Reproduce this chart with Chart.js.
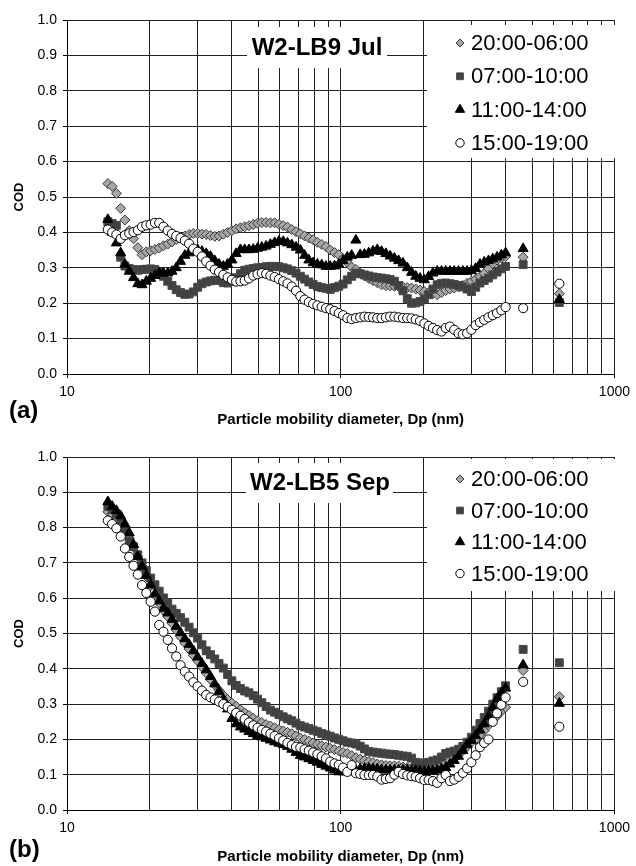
<!DOCTYPE html>
<html><head><meta charset="utf-8">
<script src="https://cdn.jsdelivr.net/npm/chart.js@4/dist/chart.umd.min.js"></script>
<style>
html,body{margin:0;padding:0;background:#fff;}
#wrap{position:relative;width:636px;height:866px;overflow:hidden;}
canvas{position:absolute;left:0;}
</style></head><body>
<div id="wrap">
<canvas id="cA" width="636" height="433" style="top:0;width:636px;height:433px"></canvas>
<canvas id="cB" width="636" height="433" style="top:433px;width:636px;height:433px"></canvas>
</div>
<script>
// ---------- data ----------
const seriesNames = ['20:00-06:00', '07:00-10:00', '11:00-14:00', '15:00-19:00'];

// particle mobility diameter channels (nm)
const diameters = [14.10,14.62,15.15,15.71,16.28,16.88,17.50,18.14,18.80,19.49,
  20.21,20.95,21.72,22.51,23.34,24.19,25.07,25.99,26.95,27.93,
  28.96,30.02,31.12,32.26,33.44,34.66,35.93,37.25,38.62,40.03,
  41.50,43.02,44.59,46.22,47.92,49.67,51.49,53.38,55.34,57.36,
  59.47,61.64,63.90,66.24,68.67,71.18,73.79,76.49,79.30,82.20,
  85.21,88.33,91.57,94.92,98.40,102.0,105.7,109.6,113.6,117.8,
  122.1,126.6,131.2,136.0,141.0,146.2,151.5,157.1,162.8,168.8,
  175.0,181.4,188.0,194.9,202.1,209.5,217.2,225.1,233.4,241.9,
  250.7,259.9,269.5,279.3,289.6,300.2,311.2,322.6,334.4,346.6,
  359.3,372.5,386.2,400.3,
  464,629];

const xGridValues = [10,20,30,40,50,60,70,80,90,100,200,300,400,500,600,700,800,900,1000];
const xTickLabels = [10,100,1000];
const yTickValues = [0,0.1,0.2,0.3,0.4,0.5,0.6,0.7,0.8,0.9,1.0];

// (a) W2-LB9 Jul
const julNight = [0.538,0.53,0.51,0.468,0.435,0.405,0.382,0.357,0.337,0.345,
  0.348,0.352,0.356,0.362,0.367,0.373,0.38,0.386,0.39,0.394,
  0.397,0.397,0.395,0.394,0.391,0.389,0.39,0.395,0.4,0.405,
  0.41,0.413,0.416,0.419,0.422,0.426,0.428,0.428,0.427,0.427,
  0.423,0.419,0.415,0.408,0.402,0.396,0.39,0.384,0.379,0.372,
  0.366,0.36,0.35,0.343,0.337,0.326,0.315,0.302,0.295,0.285,
  0.277,0.27,0.264,0.258,0.252,0.25,0.249,0.248,0.247,0.246,
  0.244,0.243,0.24,0.237,0.233,0.23,0.227,0.224,0.23,0.236,
  0.24,0.243,0.246,0.25,0.256,0.262,0.268,0.275,0.284,0.298,
  0.312,0.322,0.328,0.332,
  0.33,0.227];
const julMorning = [0.43,0.425,0.42,0.33,0.305,0.298,0.295,0.293,0.295,0.296,
  0.297,0.295,0.287,0.276,0.262,0.25,0.238,0.23,0.225,0.226,
  0.232,0.245,0.255,0.26,0.263,0.265,0.264,0.258,0.257,0.262,
  0.272,0.283,0.293,0.296,0.298,0.3,0.301,0.303,0.304,0.304,
  0.303,0.3,0.297,0.292,0.285,0.276,0.268,0.26,0.253,0.247,
  0.244,0.242,0.239,0.244,0.248,0.254,0.266,0.276,0.285,0.283,
  0.28,0.277,0.274,0.272,0.271,0.269,0.267,0.262,0.25,0.235,
  0.213,0.2,0.201,0.205,0.212,0.224,0.24,0.252,0.256,0.257,
  0.255,0.253,0.25,0.246,0.24,0.233,0.245,0.257,0.264,0.271,
  0.28,0.288,0.297,0.304,
  0.309,0.202];
const julMidday = [0.436,0.4,0.37,0.342,0.31,0.29,0.272,0.255,0.252,0.262,
  0.27,0.278,0.285,0.285,0.285,0.29,0.3,0.318,0.335,0.342,
  0.348,0.351,0.346,0.34,0.332,0.32,0.31,0.304,0.31,0.322,
  0.34,0.351,0.351,0.351,0.352,0.355,0.358,0.361,0.366,0.371,
  0.375,0.374,0.37,0.365,0.358,0.35,0.335,0.322,0.314,0.31,
  0.308,0.304,0.304,0.305,0.31,0.32,0.33,0.335,0.378,0.337,
  0.338,0.342,0.347,0.351,0.346,0.34,0.333,0.327,0.32,0.313,
  0.3,0.287,0.276,0.27,0.266,0.275,0.285,0.29,0.29,0.29,
  0.29,0.29,0.29,0.29,0.29,0.292,0.298,0.31,0.316,0.32,
  0.325,0.33,0.336,0.342,
  0.354,0.21];
const julAfternoon = [0.408,0.4,0.394,0.382,0.392,0.397,0.401,0.406,0.416,0.42,
  0.422,0.427,0.427,0.416,0.405,0.396,0.39,0.384,0.377,0.368,
  0.354,0.345,0.332,0.318,0.306,0.295,0.288,0.28,0.273,0.266,
  0.261,0.262,0.264,0.27,0.278,0.282,0.285,0.283,0.278,0.274,
  0.268,0.262,0.256,0.247,0.235,0.22,0.21,0.203,0.198,0.194,
  0.19,0.186,0.183,0.178,0.172,0.166,0.158,0.155,0.158,0.16,
  0.162,0.161,0.16,0.158,0.158,0.16,0.162,0.162,0.16,0.158,
  0.158,0.157,0.154,0.15,0.143,0.136,0.13,0.124,0.12,0.13,
  0.134,0.125,0.115,0.112,0.115,0.125,0.138,0.146,0.153,0.16,
  0.166,0.172,0.18,0.189,
  0.186,0.255];

// (b) W2-LB5 Sep
const sepNight = [0.845,0.839,0.829,0.814,0.792,0.77,0.745,0.718,0.69,0.662,
  0.635,0.61,0.587,0.566,0.548,0.529,0.51,0.491,0.473,0.456,
  0.438,0.422,0.405,0.388,0.37,0.354,0.339,0.325,0.313,0.303,
  0.294,0.284,0.275,0.268,0.26,0.253,0.248,0.242,0.238,0.233,
  0.228,0.224,0.22,0.216,0.21,0.204,0.2,0.195,0.19,0.186,
  0.182,0.178,0.175,0.171,0.167,0.163,0.16,0.154,0.148,0.144,
  0.14,0.137,0.134,0.13,0.128,0.126,0.125,0.125,0.124,0.122,
  0.12,0.119,0.118,0.118,0.118,0.12,0.122,0.125,0.128,0.132,
  0.14,0.148,0.157,0.168,0.18,0.192,0.2,0.212,0.225,0.24,
  0.255,0.266,0.28,0.291,
  0.395,0.321];
const sepMorning = [0.86,0.851,0.838,0.82,0.79,0.762,0.746,0.723,0.7,0.678,
  0.657,0.638,0.62,0.601,0.585,0.569,0.557,0.545,0.532,0.518,
  0.502,0.487,0.468,0.451,0.44,0.428,0.415,0.402,0.384,0.366,
  0.353,0.344,0.337,0.332,0.324,0.314,0.304,0.293,0.283,0.277,
  0.27,0.264,0.258,0.253,0.246,0.239,0.235,0.231,0.226,0.222,
  0.217,0.213,0.209,0.204,0.2,0.196,0.192,0.19,0.187,0.181,
  0.173,0.166,0.164,0.162,0.161,0.159,0.158,0.157,0.155,0.153,
  0.152,0.147,0.135,0.133,0.133,0.135,0.139,0.142,0.15,0.16,
  0.164,0.167,0.172,0.18,0.192,0.206,0.226,0.245,0.262,0.28,
  0.3,0.318,0.335,0.352,
  0.455,0.417];
const sepMidday = [0.873,0.86,0.848,0.833,0.81,0.785,0.752,0.718,0.69,0.664,
  0.638,0.612,0.592,0.571,0.558,0.54,0.52,0.502,0.485,0.469,
  0.451,0.433,0.415,0.397,0.378,0.357,0.336,0.314,0.286,0.259,
  0.244,0.235,0.229,0.222,0.216,0.211,0.207,0.203,0.198,0.193,
  0.189,0.185,0.18,0.172,0.163,0.154,0.15,0.145,0.14,0.135,
  0.129,0.124,0.119,0.113,0.108,0.108,0.108,0.11,0.113,0.116,
  0.117,0.118,0.117,0.116,0.114,0.113,0.113,0.113,0.113,0.113,
  0.113,0.112,0.112,0.11,0.109,0.11,0.111,0.113,0.116,0.12,
  0.13,0.14,0.152,0.168,0.185,0.197,0.211,0.226,0.244,0.265,
  0.29,0.315,0.332,0.345,
  0.411,0.302];
const sepAfternoon = [0.82,0.81,0.798,0.775,0.741,0.717,0.692,0.667,0.637,0.615,
  0.59,0.562,0.524,0.505,0.482,0.458,0.435,0.41,0.392,0.378,
  0.362,0.35,0.338,0.326,0.319,0.313,0.307,0.3,0.292,0.284,
  0.275,0.267,0.258,0.248,0.24,0.233,0.227,0.222,0.216,0.21,
  0.203,0.197,0.19,0.184,0.179,0.177,0.172,0.168,0.163,0.158,
  0.152,0.146,0.137,0.132,0.128,0.12,0.108,0.127,0.104,0.102,
  0.099,0.099,0.099,0.095,0.086,0.088,0.09,0.1,0.108,0.102,
  0.098,0.096,0.094,0.09,0.085,0.085,0.082,0.077,0.09,0.099,
  0.082,0.086,0.094,0.105,0.118,0.135,0.155,0.178,0.19,0.2,
  0.25,0.274,0.298,0.319,
  0.363,0.236];

// ---------- styles ----------
const FONT = '"Liberation Sans", Arial, Helvetica, sans-serif';
const markerStyles = [
  {pointStyle: 'rectRot', radius: 5, bg: '#a6a6a6', border: '#3a3a3a', order: 3, legendR: 4},
  {pointStyle: 'rect', radius: 5.6, bg: '#404040', border: '#4a4a4a', order: 2, legendR: 4.8},
  {pointStyle: 'triangle', radius: 5.8, bg: '#000000', border: '#000000', order: 1, legendR: 5.4},
  {pointStyle: 'circle', radius: 4.6, bg: '#ffffff', border: '#000000', order: 0, legendR: 4.2}
];

const decorPlugin = {
  id: 'decor',
  beforeDatasetsDraw(chart, args, o) {
    const ctx = chart.ctx;
    ctx.save();
    ctx.fillStyle = '#ffffff';
    ctx.fillRect(o.titleBox[0], o.titleBox[1], o.titleBox[2], o.titleBox[3]);
    ctx.fillRect(o.legendBox[0], o.legendBox[1], o.legendBox[2], o.legendBox[3]);
    ctx.fillStyle = '#000';
    ctx.font = 'bold 24px ' + FONT;
    ctx.textAlign = 'center';
    ctx.textBaseline = 'middle';
    ctx.fillText(o.title, o.titleX, o.titleY);
    ctx.font = '22px ' + FONT;
    ctx.textAlign = 'left';
    seriesNames.forEach((name, i) => {
      const y = o.legendY0 + i * o.legendDy;
      const m = markerStyles[i];
      ctx.fillStyle = m.bg;
      ctx.strokeStyle = m.border;
      ctx.lineWidth = 1;
      Chart.helpers.drawPoint(ctx, {pointStyle: m.pointStyle, radius: m.legendR, rotation: 0, borderWidth: 1}, o.legendMarkerX, y);
      ctx.fillStyle = '#000';
      ctx.fillText(name, o.legendTextX, y + 1);
    });
    ctx.restore();
  },
  afterDraw(chart, args, o) {
    const ctx = chart.ctx;
    const a = chart.chartArea;
    ctx.save();
    ctx.fillStyle = '#000';
    ctx.textBaseline = 'middle';
    ctx.textAlign = 'center';
    ctx.font = 'bold 15px ' + FONT;
    ctx.fillText('Particle mobility diameter, Dp (nm)', (a.left + a.right) / 2, o.xTitleY);
    ctx.font = 'bold 24px ' + FONT;
    ctx.textAlign = 'left';
    ctx.fillText(o.panel, 9, o.panelY);
    ctx.translate(19, (a.top + a.bottom) / 2);
    ctx.rotate(-Math.PI / 2);
    ctx.textAlign = 'center';
    ctx.font = 'bold 13px ' + FONT;
    ctx.fillText('COD', 0, 0);
    ctx.restore();
  }
};

function makeChart(canvasId, seriesList, cfg) {
  const datasets = seriesList.map((vals, i) => {
    const m = markerStyles[i];
    return {
      label: seriesNames[i],
      data: diameters.map((d, k) => ({x: d, y: vals[k]})),
      showLine: false,
      pointStyle: m.pointStyle,
      pointRadius: m.radius,
      pointHoverRadius: m.radius,
      pointBackgroundColor: m.bg,
      pointBorderColor: m.border,
      pointBorderWidth: 1,
      order: m.order
    };
  });
  return new Chart(document.getElementById(canvasId), {
    type: 'scatter',
    data: {datasets},
    options: {
      responsive: false,
      animation: false,
      devicePixelRatio: 1,
      events: [],
      layout: {padding: {left: 0, right: 19, top: cfg.areaTop, bottom: 0}},
      plugins: {
        legend: {display: false},
        tooltip: {enabled: false},
        decor: cfg
      },
      scales: {
        x: {
          type: 'logarithmic',
          min: 10, max: 1000,
          afterBuildTicks: (axis) => { axis.ticks = xGridValues.map(v => ({value: v})); },
          afterFit: (axis) => { axis.height = 433 - cfg.areaBottom; },
          ticks: {
            autoSkip: false, maxRotation: 0, minRotation: 0,
            padding: 6,
            color: '#000',
            font: {family: FONT, size: 14},
            callback: (v) => xTickLabels.includes(v) ? String(v) : ''
          },
          grid: {
            color: '#222',
            lineWidth: 1,
            tickLength: 4,
            tickColor: (c) => (c.tick && xTickLabels.includes(c.tick.value)) ? '#000' : 'rgba(0,0,0,0)'
          },
          border: {color: '#000', width: 1}
        },
        y: {
          min: 0, max: 1,
          afterBuildTicks: (axis) => { axis.ticks = yTickValues.map(v => ({value: v})); },
          afterFit: (axis) => { axis.width = 67; },
          ticks: {
            padding: 6,
            color: '#000',
            font: {family: FONT, size: 14},
            callback: (v) => Number(v).toFixed(1)
          },
          grid: {color: '#222', lineWidth: 1, tickLength: 4, tickColor: '#000'},
          border: {color: '#000', width: 1}
        }
      }
    },
    plugins: [decorPlugin]
  });
}

makeChart('cA', [julNight, julMorning, julMidday, julAfternoon], {
  areaTop: 20, areaBottom: 374,
  title: 'W2-LB9 Jul', titleX: 317, titleY: 48,
  titleBox: [247, 27, 140, 41],
  legendBox: [427, 25, 188, 133],
  legendY0: 43, legendDy: 33.3, legendMarkerX: 460, legendTextX: 471,
  panel: '(a)', panelY: 411, xTitleY: 420
});
makeChart('cB', [sepNight, sepMorning, sepMidday, sepAfternoon], {
  areaTop: 24, areaBottom: 377,
  title: 'W2-LB5 Sep', titleX: 320, titleY: 50,
  titleBox: [246, 30, 147, 40],
  legendBox: [427, 26, 188, 132],
  legendY0: 46, legendDy: 31.5, legendMarkerX: 460, legendTextX: 471,
  panel: '(b)', panelY: 417, xTitleY: 424
});
</script>
</body></html>
